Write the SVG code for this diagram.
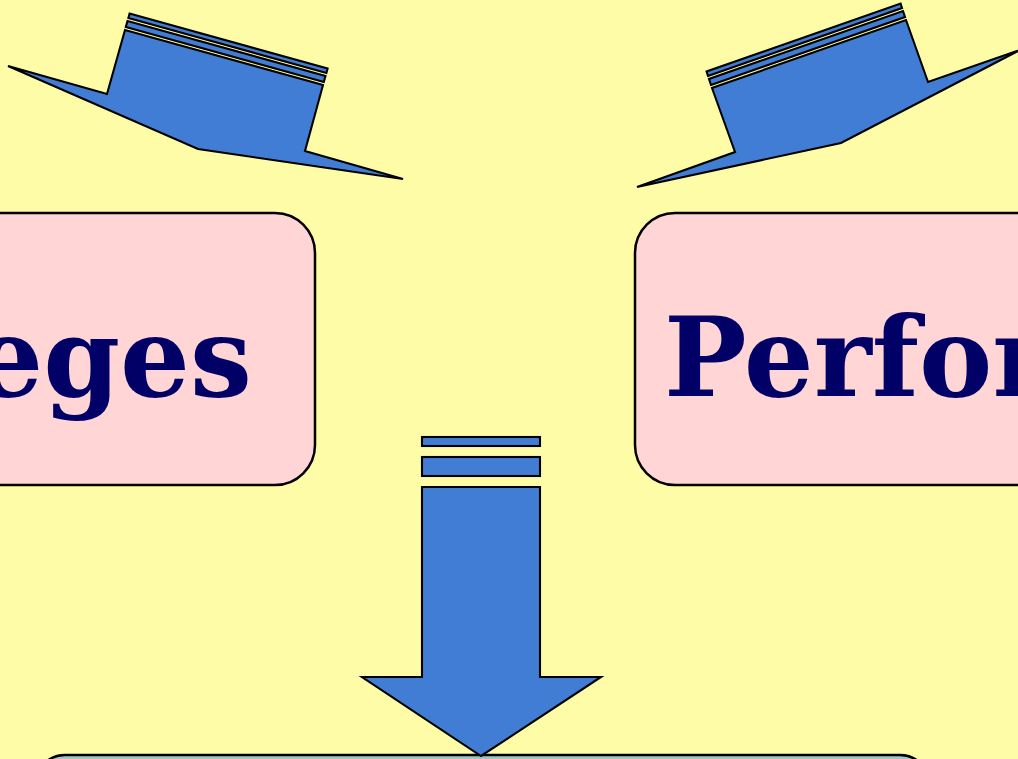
<svg xmlns="http://www.w3.org/2000/svg" width="1018" height="759" viewBox="0 0 1018 759">
<style>
.arrow{fill:#427DD5;stroke:#000;stroke-width:2.1;stroke-linejoin:miter}
.box{fill:#FFD5D5;stroke:#000;stroke-width:2.5}
.lbl{font-family:"DejaVu Serif","Liberation Serif",serif;font-weight:bold;font-size:110px;fill:#000066}
</style>
<rect x="0" y="0" width="1018" height="759" fill="#FFFCA8"/>
<g id="node-left">
<rect class="box" x="-120" y="213" width="435" height="272" rx="40" ry="40"/>
<text class="lbl" x="252" y="396" text-anchor="end">Privileges</text>
</g>
<g id="node-right">
<rect class="box" x="635" y="213" width="560" height="272" rx="40" ry="40"/>
<text class="lbl" x="664" y="396">Performance</text>
</g>
<g id="node-bottom">
<rect x="35" y="755" width="895" height="120" rx="30" ry="30" fill="#A0C8C0" stroke="#000" stroke-width="2.5"/>
</g>
<g id="connectors">
<g id="arrow-left">
<polygon class="arrow" points="8,66 107,94 125,30 323,85 305,151 403,179 198,149"/>
<polygon class="arrow" points="125.8,27 323.8,82 325.5,76 127.5,21"/>
<polygon class="arrow" points="128.4,18 326.4,73 327.6,68.5 129.6,13.5"/>
</g>
<g id="arrow-right">
<polygon class="arrow" points="637,187 735,152 712,88 906,20 928,82 1020,50 841,143"/>
<polygon class="arrow" points="711,85 905,17 903,11 709,79"/>
<polygon class="arrow" points="708,76 902,8 900.6,3.5 706.6,71.5"/>
</g>
<g id="arrow-down">
<polygon class="arrow" points="422,487 540,487 540,677 601,677 481,756 362,677 422,677"/>
<rect class="arrow" x="422" y="457" width="118" height="19"/>
<rect class="arrow" x="422" y="437" width="118" height="9"/>
</g>
</g>
</svg>
